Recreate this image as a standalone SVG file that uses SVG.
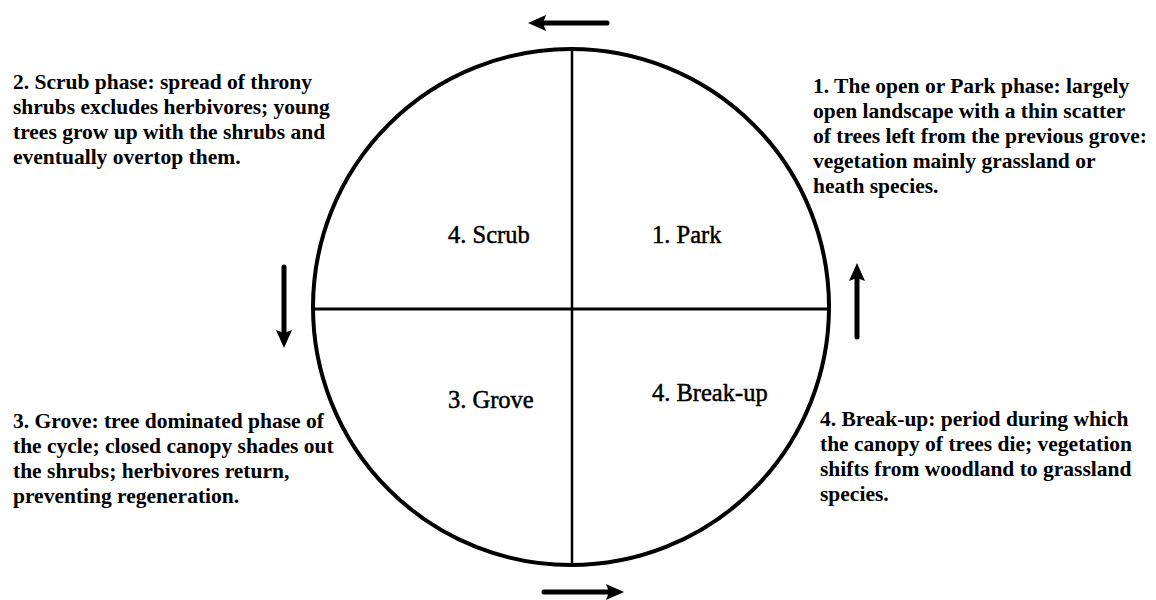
<svg xmlns="http://www.w3.org/2000/svg" width="1156" height="600" viewBox="0 0 1156 600">
<style>
.desc{font-family:"Liberation Serif",serif;font-weight:bold;font-size:21.5px;fill:#000}
.lbl{font-family:"Liberation Serif",serif;font-size:24.5px;fill:#000;stroke:#000;stroke-width:0.5}
.ln{stroke:#000;fill:none}
.arr{stroke:#000;stroke-width:5;stroke-linecap:round;fill:none;marker-end:url(#ah)}
</style>
<defs>
<marker id="ah" markerUnits="userSpaceOnUse" markerWidth="20" markerHeight="20" viewBox="0 0 20 20" refX="6" refY="10" orient="auto">
<path d="M0,2 L18,10 L0,18 L3,10 Z" fill="#000"/>
</marker>
</defs>
<rect width="1156" height="600" fill="#fff"/>
<g id="cycle">
<circle class="ln" cx="571" cy="307" r="258" stroke-width="4"/>
<line class="ln" x1="572" y1="49" x2="572" y2="565" stroke-width="2.5"/>
<line class="ln" x1="313" y1="309" x2="829" y2="309" stroke-width="3"/>
</g>
<g id="connectors">
<line class="arr" x1="607" y1="23" x2="540" y2="23"/>
<line class="arr" x1="544" y1="592" x2="612" y2="592"/>
<line class="arr" x1="284" y1="267" x2="284" y2="336"/>
<line class="arr" x1="857" y1="337" x2="857" y2="275"/>
</g>
<g id="node-scrub"><text class="lbl" x="448" y="243">4. Scrub</text></g>
<g id="node-park"><text class="lbl" x="652" y="243">1. Park</text></g>
<g id="node-grove"><text class="lbl" x="448" y="408">3. Grove</text></g>
<g id="node-breakup"><text class="lbl" x="652" y="401">4. Break-up</text></g>
<g id="text-scrub" class="desc">
<text x="13" y="89">2. Scrub phase: spread of throny</text>
<text x="13" y="114">shrubs excludes herbivores; young</text>
<text x="13" y="139">trees grow up with the shrubs and</text>
<text x="13" y="164">eventually overtop them.</text>
</g>
<g id="text-park" class="desc">
<text x="813" y="93">1. The open or Park phase: largely</text>
<text x="813" y="118">open landscape with a thin scatter</text>
<text x="813" y="143">of trees left from the previous grove:</text>
<text x="813" y="168">vegetation mainly grassland or</text>
<text x="813" y="193">heath species.</text>
</g>
<g id="text-grove" class="desc">
<text x="13" y="428">3. Grove: tree dominated phase of</text>
<text x="13" y="453">the cycle; closed canopy shades out</text>
<text x="13" y="478">the shrubs; herbivores return,</text>
<text x="13" y="503">preventing regeneration.</text>
</g>
<g id="text-breakup" class="desc">
<text x="820" y="426">4. Break-up: period during which</text>
<text x="820" y="451">the canopy of trees die; vegetation</text>
<text x="820" y="476">shifts from woodland to grassland</text>
<text x="820" y="501">species.</text>
</g>
</svg>
